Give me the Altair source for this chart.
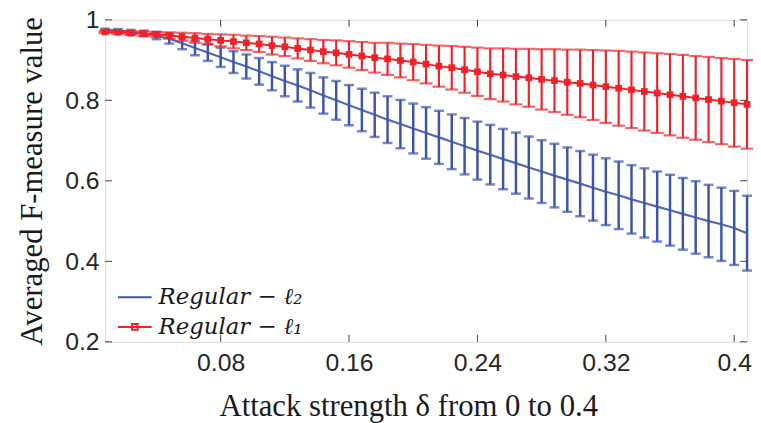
import altair as alt
import pandas as pd

# attack strength sample positions
x_vals = [0.008, 0.016, 0.024, 0.032, 0.040, 0.048, 0.056, 0.064, 0.072, 0.080,
          0.088, 0.096, 0.104, 0.112, 0.120, 0.128, 0.136, 0.144, 0.152, 0.160,
          0.168, 0.176, 0.184, 0.192, 0.200, 0.208, 0.216, 0.224, 0.232, 0.240,
          0.248, 0.256, 0.264, 0.272, 0.280, 0.288, 0.296, 0.304, 0.312, 0.320,
          0.328, 0.336, 0.344, 0.352, 0.360, 0.368, 0.376, 0.384, 0.392, 0.400,
          0.408]

l2_mean = [0.975, 0.973, 0.970, 0.966, 0.961, 0.953, 0.942, 0.930, 0.919, 0.907,
           0.895, 0.884, 0.872, 0.860, 0.848, 0.837, 0.825, 0.812, 0.800, 0.788,
           0.776, 0.764, 0.752, 0.741, 0.730, 0.719, 0.708, 0.697, 0.686, 0.675,
           0.665, 0.654, 0.644, 0.633, 0.623, 0.613, 0.603, 0.593, 0.583, 0.573,
           0.564, 0.554, 0.545, 0.536, 0.527, 0.518, 0.509, 0.500, 0.492, 0.483,
           0.470]
l2_err = [0.003, 0.004, 0.005, 0.007, 0.009, 0.012, 0.015, 0.018, 0.021, 0.024,
          0.027, 0.030, 0.033, 0.035, 0.038, 0.040, 0.043, 0.045, 0.048, 0.050,
          0.053, 0.055, 0.058, 0.060, 0.062, 0.064, 0.066, 0.068, 0.070, 0.072,
          0.074, 0.075, 0.076, 0.077, 0.078, 0.079, 0.080, 0.081, 0.082, 0.083,
          0.084, 0.085, 0.086, 0.087, 0.088, 0.089, 0.090, 0.090, 0.091, 0.092,
          0.093]

l1_mean = [0.970, 0.969, 0.967, 0.966, 0.964, 0.961, 0.958, 0.955, 0.952, 0.949,
           0.946, 0.943, 0.940, 0.936, 0.933, 0.929, 0.925, 0.921, 0.918, 0.914,
           0.910, 0.906, 0.903, 0.899, 0.895, 0.890, 0.885, 0.881, 0.876, 0.871,
           0.866, 0.863, 0.859, 0.856, 0.852, 0.849, 0.845, 0.842, 0.838, 0.834,
           0.830, 0.826, 0.822, 0.818, 0.814, 0.810, 0.806, 0.802, 0.798, 0.794,
           0.790]
l1_err = [0.003, 0.004, 0.005, 0.005, 0.006, 0.008, 0.010, 0.012, 0.013, 0.015,
          0.017, 0.018, 0.020, 0.022, 0.023, 0.025, 0.027, 0.029, 0.031, 0.033,
          0.035, 0.037, 0.040, 0.042, 0.045, 0.048, 0.051, 0.054, 0.057, 0.060,
          0.063, 0.066, 0.069, 0.072, 0.075, 0.078, 0.081, 0.084, 0.087, 0.090,
          0.093, 0.095, 0.097, 0.099, 0.101, 0.103, 0.104, 0.106, 0.107, 0.109,
          0.110]

series_names = ["Regular \u2212 \u2113\u2082", "Regular \u2212 \u2113\u2081"]
series_colors = ["#3D55A8", "#EE2229"]
legend_shapes = ["M-1,0H1", "M-1,0H1M-0.17,-0.17H0.17V0.17H-0.17Z"]

x_ticks = [0.08, 0.16, 0.24, 0.32, 0.40]
y_ticks = [0.2, 0.4, 0.6, 0.8, 1.0]

W, H = 648, 325

df2 = pd.DataFrame({"x": x_vals, "m": l2_mean,
                    "lo": [m - e for m, e in zip(l2_mean, l2_err)],
                    "hi": [m + e for m, e in zip(l2_mean, l2_err)]})
df1 = pd.DataFrame({"x": x_vals, "m": l1_mean,
                    "lo": [m - e for m, e in zip(l1_mean, l1_err)],
                    "hi": [m + e for m, e in zip(l1_mean, l1_err)]})
dfleg = pd.DataFrame({"series": series_names})

xs = alt.Scale(domain=[0.008, 0.408], nice=False, zero=False)
ys = alt.Scale(domain=[0.2, 1.0], nice=False, zero=False)

x_axis = alt.Axis(values=x_ticks, format=".2~f", title="Attack strength \u03b4 from 0 to 0.4",
                  labelFont="Liberation Sans", labelFontSize=25, labelColor="#262626",
                  labelPadding=9, labelFlush=False, ticks=False, tickSize=0, domain=False, grid=False,
                  titleFont="Liberation Serif", titleFontSize=31, titleFontWeight="normal",
                  titleColor="#1a1a1a", titleX=306, titleY=74, titleBaseline="alphabetic",
                  titleAlign="center")
y_axis = alt.Axis(values=y_ticks, format=".1~f", title="Averaged F-measure value",
                  labelFont="Liberation Sans", labelFontSize=25, labelColor="#262626",
                  labelPadding=6, labelFlush=False, ticks=False, tickSize=0, domain=False, grid=False,
                  titleFont="Liberation Serif", titleFontSize=31, titleFontWeight="normal",
                  titleColor="#1a1a1a", titleX=-73, titleY=H / 2, titleAngle=270,
                  titleBaseline="middle", titleAlign="center")

X = alt.X("x:Q", scale=xs, axis=x_axis)
Y = alt.Y("m:Q", scale=ys, axis=y_axis)


def errbars(df, color, cap, sw):
    base = alt.Chart(df)
    stem = base.mark_rule(color=color, strokeWidth=sw).encode(
        x=alt.X("x:Q", scale=xs), y=alt.Y("lo:Q", scale=ys), y2="hi:Q")
    top = base.mark_tick(color=color, thickness=sw, size=cap, orient="horizontal").encode(
        x=alt.X("x:Q", scale=xs), y=alt.Y("hi:Q", scale=ys))
    bot = base.mark_tick(color=color, thickness=sw, size=cap, orient="horizontal").encode(
        x=alt.X("x:Q", scale=xs), y=alt.Y("lo:Q", scale=ys))
    return stem + top + bot


blue_bars = errbars(df2, series_colors[0], 10, 2.5)
red_bars = errbars(df1, series_colors[1], 13, 2.2)

blue_line = alt.Chart(df2).mark_line(strokeWidth=2.2, color="#5468B4").encode(x=X, y=Y)
red_line = alt.Chart(df1).mark_line(strokeWidth=2, color=series_colors[1]).encode(
    x=alt.X("x:Q", scale=xs), y=alt.Y("m:Q", scale=ys))
red_pts = alt.Chart(df1).mark_point(shape="square", filled=True, size=46, opacity=1,
                                    color=series_colors[1]).encode(
    x=alt.X("x:Q", scale=xs), y=alt.Y("m:Q", scale=ys))

legend_layer = alt.Chart(dfleg).mark_point(filled=False, opacity=0, strokeWidth=2).encode(
    color=alt.Color("series:N", scale=alt.Scale(domain=series_names, range=series_colors),
                    legend=alt.Legend(
                        title=None, orient="none", legendX=12, legendY=262,
                        labelFont="DejaVu Serif", labelFontStyle="italic",
                        labelFontSize=23, labelColor="#1a1a1a", symbolSize=1156,
                        symbolStrokeWidth=2, symbolOpacity=1, rowPadding=0, padding=0,
                        labelOffset=6)),
    shape=alt.Shape("series:N", scale=alt.Scale(domain=series_names, range=legend_shapes)),
)

tick_color = "#404040"
xt = pd.DataFrame({"t": x_ticks})
yt = pd.DataFrame({"t": y_ticks})
xt_bot = alt.Chart(xt).mark_rule(color=tick_color, strokeWidth=1).encode(
    x=alt.X("t:Q", scale=xs), y=alt.value(H), y2=alt.value(H - 7))
xt_top = alt.Chart(xt).mark_rule(color=tick_color, strokeWidth=1).encode(
    x=alt.X("t:Q", scale=xs), y=alt.value(0), y2=alt.value(7))
yt_left = alt.Chart(yt).mark_rule(color=tick_color, strokeWidth=1).encode(
    y=alt.Y("t:Q", scale=ys), x=alt.value(0), x2=alt.value(7))
yt_right = alt.Chart(yt).mark_rule(color=tick_color, strokeWidth=1).encode(
    y=alt.Y("t:Q", scale=ys), x=alt.value(W - 7), x2=alt.value(W))

chart = alt.layer(
    blue_line, blue_bars, red_bars, red_line, red_pts, legend_layer,
    xt_bot, xt_top, yt_left, yt_right
).properties(
    width=W, height=H,
    autosize=alt.AutoSizeParams(type="none"),
    padding={"left": 98, "top": 10, "right": 6, "bottom": 80},
).configure_view(
    stroke="#404040", strokeWidth=1
).configure(background="white")

chart.save("out.html", embed_options={"renderer": "svg", "actions": False})
